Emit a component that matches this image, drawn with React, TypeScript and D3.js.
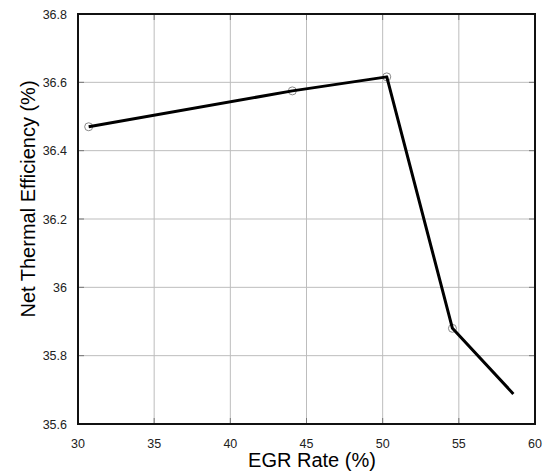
import React from "react";
import * as d3 from "d3";

const egrRate = [30.7, 44.07, 50.27, 54.58, 58.58];
const efficiency = [36.47, 36.575, 36.616, 35.88, 35.688];
const showMarker = [true, true, true, true, false];
const xTicks = [30, 35, 40, 45, 50, 55, 60];
const yTicks = [35.6, 35.8, 36, 36.2, 36.4, 36.6, 36.8];
const yTickLabels = ["35.6", "35.8", "36", "36.2", "36.4", "36.6", "36.8"];

const W = 546, H = 473;
const L = 78, R = 535, T = 14, B = 424;
const font = "Liberation Sans, Arial, sans-serif";

export default function App() {
  const x = d3.scaleLinear().domain([30, 60]).range([L, R]);
  const y = d3.scaleLinear().domain([35.6, 36.8]).range([B, T]);
  const pts = egrRate.map((v, i) => [x(v), y(efficiency[i])] as [number, number]);
  const line = d3.line()(pts) || "";
  return (
    <svg width={W} height={H} style={{ position: "absolute", left: 0, top: 0 }}>
      <rect width={W} height={H} fill="#fff" />
      {xTicks.slice(1, -1).map((t) => (
        <line key={"gx" + t} x1={x(t)} x2={x(t)} y1={T} y2={B} stroke="#bdbdbd" strokeWidth={1} />
      ))}
      {yTicks.slice(1, -1).map((t) => (
        <line key={"gy" + t} x1={L} x2={R} y1={y(t)} y2={y(t)} stroke="#bdbdbd" strokeWidth={1} />
      ))}
      {xTicks.slice(1, -1).map((t) => (
        <g key={"tx" + t}>
          <line x1={x(t)} x2={x(t)} y1={T} y2={T + 6} stroke="#777" strokeWidth={1} />
          <line x1={x(t)} x2={x(t)} y1={B - 6} y2={B} stroke="#777" strokeWidth={1} />
        </g>
      ))}
      {yTicks.slice(1, -1).map((t) => (
        <g key={"ty" + t}>
          <line x1={L} x2={L + 6} y1={y(t)} y2={y(t)} stroke="#777" strokeWidth={1} />
          <line x1={R - 6} x2={R} y1={y(t)} y2={y(t)} stroke="#777" strokeWidth={1} />
        </g>
      ))}
      <rect x={L} y={T} width={R - L} height={B - T} fill="none" stroke="#111" strokeWidth={2} />
      {pts.map((p, i) =>
        showMarker[i] ? (
          <circle key={"m" + i} cx={p[0]} cy={p[1]} r={4} fill="none" stroke="#888" strokeWidth={1} />
        ) : null
      )}
      <path d={line} fill="none" stroke="#000" strokeWidth={3} strokeLinejoin="round" />
      {xTicks.map((t) => (
        <text key={"lx" + t} x={x(t)} y={448} textAnchor="middle" fontFamily={font} fontSize={12.5} fill="#222">
          {t}
        </text>
      ))}
      {yTicks.map((t, i) => (
        <text key={"ly" + t} x={67} y={y(t) + 4.5} textAnchor="end" fontFamily={font} fontSize={12.5} fill="#222">
          {yTickLabels[i]}
        </text>
      ))}
      <text x={312} y={467} textAnchor="middle" fontFamily={font} fontSize={20} fill="#000">
        EGR Rate (%)
      </text>
      <text
        transform={`translate(35,199) rotate(-90)`}
        textAnchor="middle"
        fontFamily={font}
        fontSize={20}
        fill="#000"
      >
        Net Thermal Efficiency (%)
      </text>
    </svg>
  );
}
